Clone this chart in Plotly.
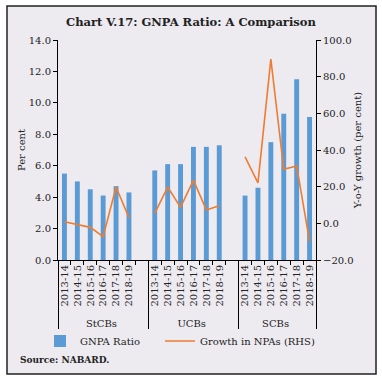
import plotly.graph_objects as go

groups = ["StCBs", "UCBs", "SCBs"]
years = ["2013-14", "2014-15", "2015-16", "2016-17", "2017-18", "2018-19"]
gnpa_stcbs = [5.5, 5.0, 4.5, 4.1, 4.7, 4.3]
gnpa_ucbs = [5.7, 6.1, 6.1, 7.2, 7.2, 7.3]
gnpa_scbs = [4.1, 4.6, 7.5, 9.3, 11.5, 9.1]
growth_stcbs = [0.9, -0.5, -2.2, -7.3, 19.8, 3.1]
growth_ucbs = [5.4, 19.8, 8.7, 23.6, 7.3, 9.6]
growth_scbs = [36.3, 22.1, 89.6, 29.5, 31.3, -9.8]

# build multicategory axis (blank slot after first two groups)
xg, xy, bars, lines = [], [], [], []
for gi, (g, gv, lv) in enumerate(zip(groups, [gnpa_stcbs, gnpa_ucbs, gnpa_scbs],
                                     [growth_stcbs, growth_ucbs, growth_scbs])):
    for y, b, l in zip(years, gv, lv):
        xg.append(g); xy.append(y); bars.append(b); lines.append(l)
    if gi < len(groups) - 1:
        xg.append(g); xy.append(" "); bars.append(None); lines.append(None)

FONT = "DejaVu Serif"
BLUE = "#5B9BD5"
ORANGE = "#ED7D31"

fig = go.Figure()
fig.add_trace(go.Bar(x=[xg, xy], y=bars, name="GNPA Ratio", marker_color=BLUE,
                     marker_line_width=0, legend="legend"))
fig.add_trace(go.Scatter(x=[xg, xy], y=lines, name="Growth in NPAs (RHS)", yaxis="y2",
                         mode="lines", line=dict(color=ORANGE, width=1.6),
                         connectgaps=False, legend="legend2"))

L, R, T, B = 58, 66, 40, 122
W = H = 382
pw, ph = W - L - R, H - T - B

def px(x):
    return (x - L) / pw

def py(y):
    return (H - B - y) / ph

leg_common = dict(orientation="h", xref="container", yref="container",
                  xanchor="left", yanchor="middle", bgcolor="rgba(0,0,0,0)",
                  font=dict(size=10), itemwidth=30)

fig.update_layout(
    width=W, height=H,
    margin=dict(l=L, r=R, t=T, b=B, autoexpand=False),
    paper_bgcolor="white",
    plot_bgcolor="rgba(0,0,0,0)",
    font=dict(family=FONT, size=10, color="#222"),
    bargap=0.62,
    showlegend=True,
    legend=dict(x=40 / W, y=1 - 341 / H, **leg_common),
    legend2=dict(x=160 / W, y=1 - 341 / H, **leg_common),
    xaxis=dict(type="multicategory", showline=True, linecolor="black", linewidth=1,
               ticks="outside", ticklen=4, tickcolor="black", tickangle=-90,
               showdividers=True, dividercolor="black", dividerwidth=1,
               tickfont=dict(size=10), showgrid=False),
    yaxis=dict(range=[0, 14], dtick=2, tickformat=".1f", showline=True, linecolor="black",
               ticks="outside", ticklen=4, tickcolor="black", showgrid=False, zeroline=False,
               title=dict(text="Per cent", font=dict(size=10), standoff=1)),
    yaxis2=dict(range=[-20, 100], dtick=20, tickformat=".1f", overlaying="y", side="right",
                showline=True, linecolor="black", ticks="outside", ticklen=4,
                tickcolor="black", showgrid=False, zeroline=False,
                title=dict(text="Y-o-Y growth (per cent)", font=dict(size=10), standoff=1)),
    shapes=[dict(type="rect", xref="paper", yref="paper", x0=px(7), x1=px(376),
                 y0=py(374), y1=py(6), fillcolor="#EDEAF0",
                 line=dict(color="#222", width=1.5), layer="below")],
    annotations=[
        dict(text="<b>Chart V.17: GNPA Ratio: A Comparison</b>", xref="paper", yref="paper",
             x=px(191), y=py(22), showarrow=False, font=dict(size=11.5, family=FONT),
             xanchor="center", yanchor="middle"),
        dict(text="<b>Source: NABARD.</b>", xref="paper", yref="paper",
             x=px(18), y=py(360), showarrow=False, font=dict(size=9, family=FONT),
             xanchor="left", yanchor="middle"),
    ],
)

fig.write_html("out.html", config={"displayModeBar": False},
               post_script="document.body.style.margin='0';")
